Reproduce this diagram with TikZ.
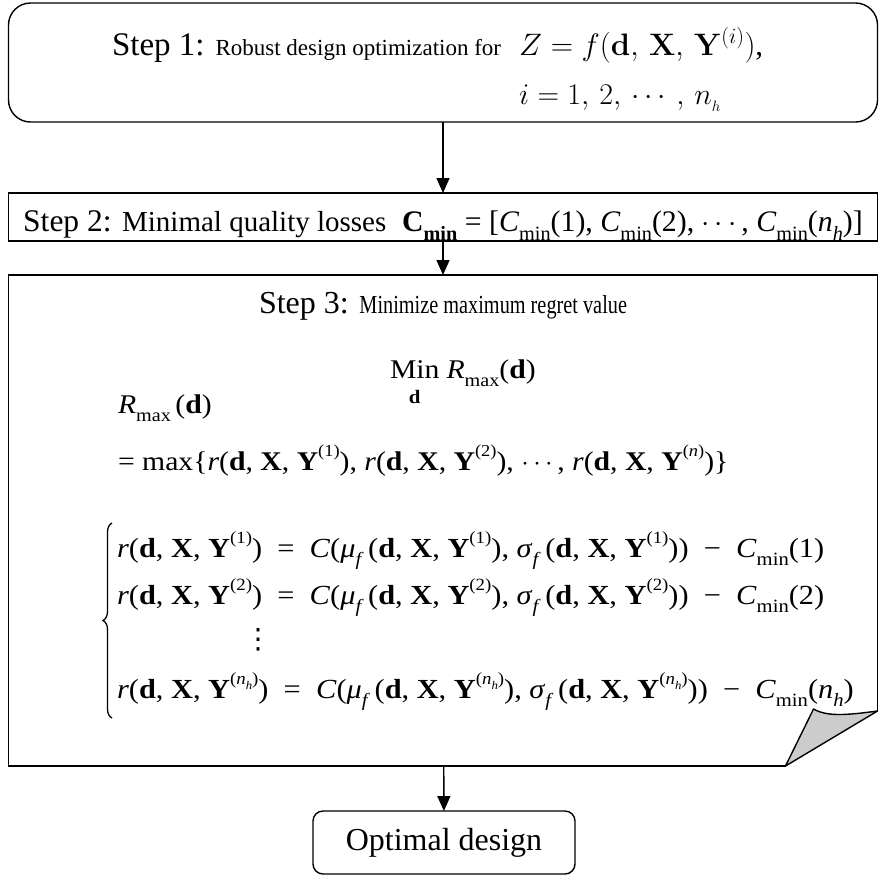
\RequirePackage{fix-cm}
\documentclass[tikz,border=0pt]{standalone}
\usepackage{amsmath}
\usepackage{amssymb}
\usepackage{graphicx}
\usepackage[no-math]{fontspec}
\setmainfont{Liberation Serif}
\newfontfamily\narrowfont[FakeStretch=0.78]{Liberation Serif}
\newfontfamily\eqfont[FakeStretch=1.1]{Liberation Serif}
\newfontfamily\symfont{DejaVu Sans}
\usetikzlibrary{arrows.meta,positioning,decorations.pathreplacing}

\newcommand{\stepsize}{\fontsize{32}{36}\selectfont}
\newcommand{\bodysize}{\narrowfont\fontsize{26}{30}\selectfont}
\newcommand{\eqsize}{\eqfont\fontsize{27}{32}\selectfont}
\newcommand{\lsub}[1]{\raisebox{-0.32em}{\scalebox{0.68}{#1}}}
\newcommand{\hsup}[1]{\raisebox{0.5em}{\scalebox{0.62}{#1}}}
\newcommand{\Yb}[1]{\textbf{Y}\hsup{(#1)}}
\newcommand{\dxy}[1]{(\textbf{d}, \textbf{X}, \Yb{#1})}
\newcommand{\Cmin}{\textit{C}\lsub{min}}
\newcommand{\nh}{\textit{n}\lsub{\textit{h}}}
\newcommand{\regline}[2]{\textit{r}\dxy{#1}\ \ =\ \ \textit{C}(\textit{μ}\lsub{\textit{f}}\,\dxy{#1}, \textit{σ}\lsub{\textit{f}}\,\dxy{#1})\ \ −\ \ \Cmin(#2)}

\begin{document}
\begin{tikzpicture}[x=1pt,y=-1pt]
        \tikzstyle{every node} = [inner sep=0pt, outer sep=0pt]
        \tikzstyle{box} = [draw, line width=1.4pt, minimum width=869pt]
        \useasboundingbox (0,0) rectangle (885,879);

        \node[box, rounded corners=22pt, minimum height=119pt] (s1) at (443,62.5) {};
        \node[box, minimum height=48pt] (s2) at (443,217) {};
        \node[minimum width=869pt, minimum height=491pt] (s3) at (443,520.5) {};
        \node[box, rounded corners=10pt, minimum width=262pt, minimum height=63pt] (opt) at (444,842.5) {};

        % step 3 outline with the curled corner
        \coordinate (cA) at ([xshift=-92pt]s3.south east);
        \coordinate (cB) at ([xshift=-64pt,yshift=57pt]s3.south east);
        \coordinate (cC) at ([yshift=55pt]s3.south east);
        \draw[line width=1.4pt] (cC) -- (s3.north east) -- (s3.north west) -- (s3.south west) -- (cA);
        \draw[line width=1.4pt, fill=gray!40, line join=round] (cA) -- (cB) .. controls ++(14pt,-8pt) and ++(-30pt,-4pt) .. (cC) -- cycle;

        \foreach \from/\to in {s1/s2, s2/s3, s3/opt}
            \draw[line width=1.4pt, -{Triangle[length=15pt,width=13pt]}] (\from) -- (\to);

        % step 1
        \node[anchor=base west] (t1) at (112,55) {\fontsize{33}{36}\selectfont Step 1: {\fontsize{23}{28}\selectfont Robust design optimization for}};
        \node[right=18pt of t1.base east, anchor=base west] (t1m) {\fontsize{31}{34}\selectfont $Z = f(\mathbf{d},\, \mathbf{X},\, \mathbf{Y}^{(i)})$,};
        \node[anchor=base west] (t1b) at (t1m.west |- 0,104) {\fontsize{30}{34}\selectfont $i = 1,\, 2,\, \cdots,\, n_{_h}$};

        % step 2
        \node[anchor=base] (t2) at (443,231) {\fontsize{31.5}{36}\selectfont Step 2: {\fontsize{29}{34}\selectfont Minimal quality losses}\ \ {\fontsize{29.8}{34}\selectfont\textbf{C}\lsub{\textbf{min}}\ = [\Cmin(1), \Cmin(2), $\cdots$, \Cmin(\nh)]}};

        % step 3
        \node[anchor=base] (t3) at (443,313) {\stepsize Step 3: {\bodysize Minimize maximum regret value}};
        \node[anchor=base west] (minop) at (390,378) {\eqsize Min};
        \node[anchor=base] (minsub) at (minop.south |- 0,403) {\eqsize\fontsize{19}{20}\selectfont\textbf{d}};
        \node[right=7pt of minop.base east, anchor=base west] (minobj) {\eqsize\textit{R}\lsub{max}(\textbf{d})};
        \node[anchor=base west] (rmax) at (118,413) {\eqsize\textit{R}\lsub{max}\,(\textbf{d})};
        \node[anchor=base west] (maxline) at (118,470) {\eqsize =\ max\{\textit{r}\dxy{1}, \textit{r}\dxy{2}, $\cdots$, \textit{r}\dxy{\textit{n}}\}};

        \node[anchor=base west] (r1) at (117,557) {\eqsize\fontsize{27.6}{32}\selectfont\regline{1}{1}};
        \node[anchor=base west] (r2) at (117,604) {\eqsize\fontsize{27.6}{32}\selectfont\regline{2}{2}};
        \node (vd) at (258,640) {\symfont\fontsize{28}{34}\selectfont ⋮};
        \node[anchor=base west] (r3) at (117,698) {\eqsize\fontsize{27.6}{32}\selectfont\regline{\textit{n}\lsub{\textit{h}}}{\nh}};
        \draw[line width=1.3pt, decorate, decoration={brace, amplitude=9pt}] ([xshift=-5pt]r3.west |- 0,718) -- ([xshift=-5pt]r1.west |- 0,523);

        \node (optext) at (opt) {\stepsize Optimal design};
\end{tikzpicture}
\end{document}
